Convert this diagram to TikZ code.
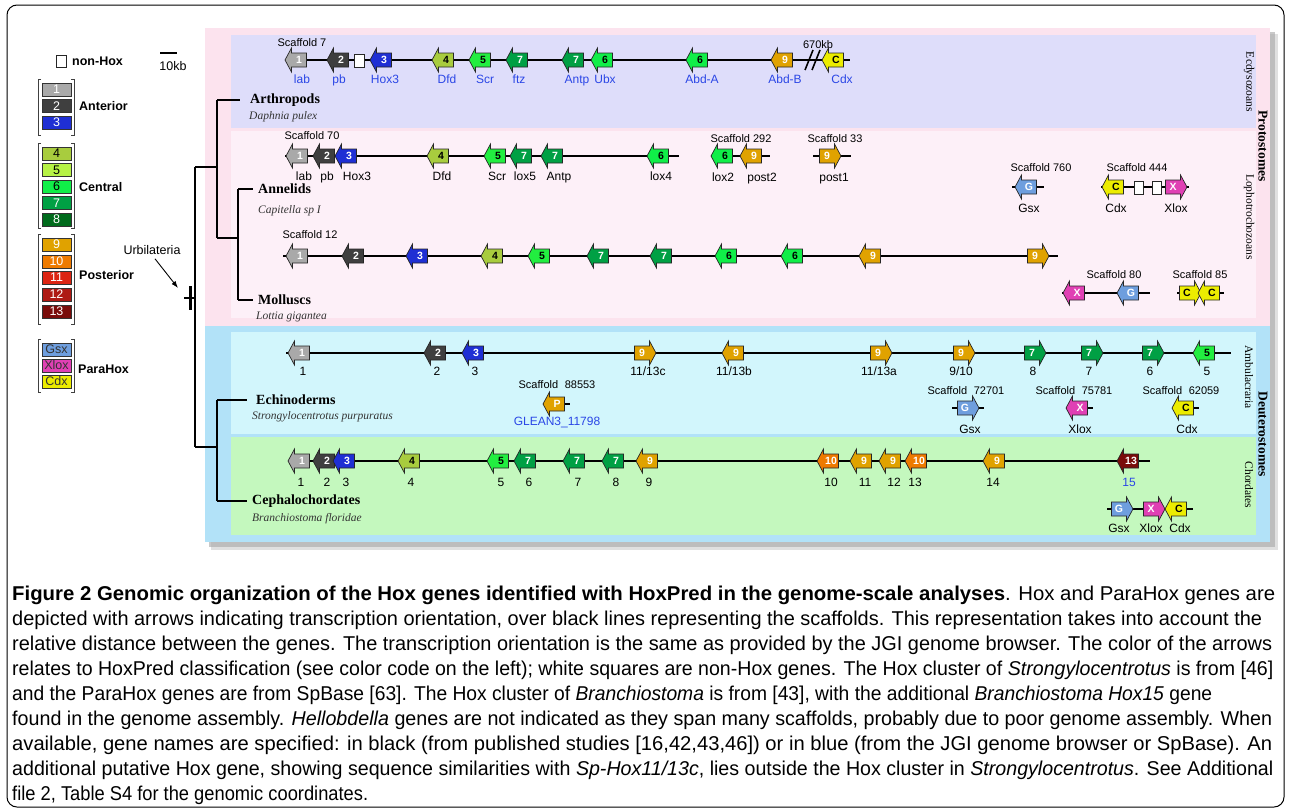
\documentclass[tikz,border=0pt]{standalone}
\usepackage{fontspec}
\usepackage{graphicx}
\setmainfont{Liberation Serif}
\newfontfamily\arial{Liberation Sans}
\newfontfamily\capfont{Liberation Sans}
\usetikzlibrary{arrows.meta,calc}

\definecolor{cOne}{HTML}{A9A9A9}
\definecolor{cTwo}{HTML}{3F3F3F}
\definecolor{cThree}{HTML}{1F2FD4}
\definecolor{cFour}{HTML}{A8CC3E}
\definecolor{cFive}{HTML}{B6F245}
\definecolor{cFiveG}{HTML}{22EE40}
\definecolor{cSix}{HTML}{10EE48}
\definecolor{cSeven}{HTML}{00A044}
\definecolor{cEight}{HTML}{006B1C}
\definecolor{cNine}{HTML}{E0A200}
\definecolor{cTen}{HTML}{EE7A00}
\definecolor{cEleven}{HTML}{DC2412}
\definecolor{cTwelve}{HTML}{AE1A14}
\definecolor{cThirteen}{HTML}{7A0C0A}
\definecolor{cGsx}{HTML}{6E9EDE}
\definecolor{cXlox}{HTML}{E040B4}
\definecolor{cCdx}{HTML}{ECEC00}
\definecolor{gblue}{HTML}{2A46E6}
\definecolor{bgPink}{HTML}{FCE3EE}
\definecolor{bgBlue}{HTML}{B2E2F8}
\definecolor{bgLav}{HTML}{DEDDFA}
\definecolor{bgLpink}{HTML}{FDF0F8}
\definecolor{bgCyan}{HTML}{D2F6FC}
\definecolor{bgGreen}{HTML}{C4F8BE}

\newsavebox\cbA \newsavebox\cbB \newsavebox\cbC
\newsavebox\cbD \newsavebox\cbE \newsavebox\cbF
\newsavebox\cbG \newsavebox\cbH \newsavebox\cbI
\newdimen\capw
\newcounter{gn}
\newcounter{ln}
\newcommand\gL[5]{\stepcounter{gn}%
 \filldraw[gene,fill=#3] ({#1+7.5},{#2-7}) -- ({#1-7.5},{#2-7}) -- ({#1-7.5},{#2-12}) -- ({#1-14},{#2}) -- ({#1-7.5},{#2+12}) -- ({#1-7.5},{#2+7}) -- ({#1+7.5},{#2+7}) -- cycle;
 \node[gnum,text=#4] (g\arabic{gn}) at (#1,#2) {#5};}
\newcommand\gR[5]{\stepcounter{gn}%
 \filldraw[gene,fill=#3] ({#1-7.5},{#2-7}) -- ({#1+7.5},{#2-7}) -- ({#1+7.5},{#2-12}) -- ({#1+14},{#2}) -- ({#1+7.5},{#2+12}) -- ({#1+7.5},{#2+7}) -- ({#1-7.5},{#2+7}) -- cycle;
 \node[gnum,text=#4] (g\arabic{gn}) at (#1,#2) {#5};}
\newcommand\glb[4]{\stepcounter{ln}\node[glab,text=#3] (l\arabic{ln}) at (#1,{#2+4.3}) {#4};}
\newcommand\scl[3]{\stepcounter{ln}\node[sclab] (s\arabic{ln}) at (#1,{#2+4}) {#3};}
\newcommand\capfnt{\capfont\fontsize{20}{20}\selectfont}
\newcommand\legbr[2]{\draw[brk] (41,#1) -- (38,#1) -- (38,#2) -- (41,#2); \draw[brk] (71,#1) -- (74,#1) -- (74,#2) -- (71,#2);}

\tikzset{
 gene/.style={draw=black!85, line width=0.7pt, line join=miter},
 gnum/.style={font=\arial\bfseries\fontsize{10.5}{10.5}\selectfont, inner sep=0pt},
 glab/.style={font=\arial\fontsize{12}{12}\selectfont, inner sep=0pt, anchor=base},
 sclab/.style={font=\arial\fontsize{11}{11}\selectfont, inner sep=0pt, anchor=base},
 scaf/.style={line width=1.6pt, black},
 tree/.style={line width=1.8pt, black},
 nonhox/.style={draw=black!85, fill=white, line width=0.7pt},
 taxon/.style={font=\bfseries\fontsize{14}{14}\selectfont, anchor=west, inner sep=0pt},
 species/.style={font=\itshape\fontsize{11.5}{12}\selectfont, anchor=west, inner sep=0pt, text=black!80},
 clade/.style={font=\fontsize{11.5}{12}\selectfont, rotate=-90, inner sep=0pt},
 bigclade/.style={font=\bfseries\fontsize{13.5}{14}\selectfont, rotate=-90, inner sep=0pt},
 legbox/.style={draw=black!80, line width=0.6pt, minimum width=29pt, minimum height=13pt, inner sep=0pt, font=\arial\fontsize{12.5}{12.5}\selectfont},
 leglab/.style={font=\arial\bfseries\fontsize{12.5}{13}\selectfont, anchor=west, inner sep=0pt},
 brk/.style={draw=black!75, line width=0.7pt},
 capl/.style={anchor=base west, inner sep=0pt},
}

\begin{document}
\sbox\cbA{\capfnt\bfseries Figure 2 Genomic organization of the Hox genes identified with HoxPred in the genome-scale analyses\mdseries. Hox and ParaHox genes are}%
\capw=\wd\cbA\pgfmathsetmacro\sxA{1263/\capw}%
\sbox\cbB{\capfnt depicted with arrows indicating transcription orientation, over black lines representing the scaffolds. This representation takes into account the}%
\capw=\wd\cbB\pgfmathsetmacro\sxB{1250/\capw}%
\sbox\cbC{\capfnt relative distance between the genes. The transcription orientation is the same as provided by the JGI genome browser. The color of the arrows}%
\capw=\wd\cbC\pgfmathsetmacro\sxC{1260/\capw}%
\sbox\cbD{\capfnt relates to HoxPred classification (see color code on the left); white squares are non-Hox genes. The Hox cluster of \textit{Strongylocentrotus} is from [46]}%
\capw=\wd\cbD\pgfmathsetmacro\sxD{1261/\capw}%
\sbox\cbE{\capfnt and the ParaHox genes are from SpBase [63]. The Hox cluster of \textit{Branchiostoma} is from [43], with the additional \textit{Branchiostoma Hox15} gene}%
\capw=\wd\cbE\pgfmathsetmacro\sxE{1200/\capw}%
\sbox\cbF{\capfnt found in the genome assembly. \textit{Hellobdella} genes are not indicated as they span many scaffolds, probably due to poor genome assembly. When}%
\capw=\wd\cbF\pgfmathsetmacro\sxF{1260/\capw}%
\sbox\cbG{\capfnt available, gene names are specified: in black (from published studies [16,42,43,46]) or in blue (from the JGI genome browser or SpBase). An}%
\capw=\wd\cbG\pgfmathsetmacro\sxG{1260/\capw}%
\sbox\cbH{\capfnt additional putative Hox gene, showing sequence similarities with \textit{Sp-Hox11/13c}, lies outside the Hox cluster in \textit{Strongylocentrotus}. See Additional}%
\capw=\wd\cbH\pgfmathsetmacro\sxH{1261/\capw}%
\sbox\cbI{\capfnt file 2, Table S4 for the genomic coordinates.}%
\capw=\wd\cbI\pgfmathsetmacro\sxI{356/\capw}%
\begin{tikzpicture}[x=1pt,y=-1pt]
\useasboundingbox (0,0) rectangle (1290,809);
\fill[white] (0,0) rectangle (1290,809);
\draw[rounded corners=10pt, line width=1pt] (7,5) rectangle (1284,807);

% ---------- panel backgrounds ----------
\fill[black!20, opacity=0.6] (211,34) rectangle (1278,550);
\fill[black!35, opacity=0.6] (209,32) rectangle (1275,547);
\fill[bgPink] (205,28) rectangle (1270,326);
\fill[bgBlue] (205,326) rectangle (1270,542);
\fill[bgLav] (231,35) rectangle (1256,128);
\fill[bgLpink] (231,131) rectangle (1256,318);
\fill[bgCyan] (231,332) rectangle (1256,434);
\fill[bgGreen] (231,437) rectangle (1256,535);

% ---------- clade labels ----------
\node[clade] (ecd) at (1249,82) {Ecdysozoans};
\node[bigclade] (pro) at (1263,146) {Protostomes};
\node[clade] (lop) at (1249,217) {Lophotrochozoans};
\node[clade] (amb) at (1249,377) {Ambulacraria};
\node[bigclade] (deu) at (1263,434) {Deuterostomes};
\node[clade] (cho) at (1249,485) {Chordates};

% ---------- legend ----------
\draw[nonhox] (56,55) rectangle (66,67);
\node[leglab] (nh) at (72,61) {non-Hox};
\draw[line width=1.6pt] (160,53) -- (177,53);
\node[font=\arial\fontsize{12.5}{12.5}\selectfont, inner sep=0pt] (kb) at (173,66) {10kb};

\node[legbox, fill=cOne, text=white] (L1) at (56.5,89.5) {1};
\node[legbox, fill=cTwo, text=white] (L2) at (56.5,106) {2};
\node[legbox, fill=cThree, text=white] (L3) at (56.5,122.5) {3};
\legbr{79}{135}
\node[leglab] (ant) at (79,106) {Anterior};

\node[legbox, fill=cFour] (L4) at (56.5,153.5) {4};
\node[legbox, fill=cFive] (L5) at (56.5,170) {5};
\node[legbox, fill=cSix] (L6) at (56.5,186.5) {6};
\node[legbox, fill=cSeven, text=white] (L7) at (56.5,203) {7};
\node[legbox, fill=cEight, text=white] (L8) at (56.5,219.5) {8};
\legbr{143}{228}
\node[leglab] (cen) at (79,187) {Central};

\node[legbox, fill=cNine, text=white] (L9) at (56.5,244.5) {9};
\node[legbox, fill=cTen, text=white] (L10) at (56.5,261.5) {10};
\node[legbox, fill=cEleven, text=white] (L11) at (56.5,277.5) {11};
\node[legbox, fill=cTwelve, text=white] (L12) at (56.5,294.5) {12};
\node[legbox, fill=cThirteen, text=white] (L13) at (56.5,311.5) {13};
\legbr{234}{324}
\node[leglab] (pos) at (79,275) {Posterior};

\node[legbox, fill=cGsx, text=black!80] (LG) at (56.5,349.5) {Gsx};
\node[legbox, fill=cXlox, text=black!80] (LX) at (56.5,365.5) {Xlox};
\node[legbox, fill=cCdx, text=black!80] (LC) at (56.5,381.5) {Cdx};
\legbr{339}{392}
\node[leglab] (par) at (78,369) {ParaHox};

% ---------- tree ----------
\node[font=\arial\fontsize{12.5}{12.5}\selectfont, inner sep=0pt] (urb) at (152,250) {Urbilateria};
\coordinate (urbtip) at (178,288);
\draw[line width=0.9pt, -{Latex[length=7pt,width=5pt]}] ($(urb.south)+(3,4)$) -- (urbtip);

\node[taxon] (arth) at (250,100) {Arthropods};
\node[species] (arths) at (249,117) {Daphnia pulex};
\node[taxon] (ann) at (258,189) {Annelids};
\node[species] (anns) at (258,211) {Capitella sp I};
\node[taxon] (mol) at (258,300) {Molluscs};
\node[species] (mols) at (256,317) {Lottia gigantea};
\node[taxon] (ech) at (256,400) {Echinoderms};
\node[species] (echs) at (252,417) {Strongylocentrotus purpuratus};
\node[taxon] (cep) at (252,501) {Cephalochordates};
\node[species] (ceps) at (252,519) {Branchiostoma floridae};

\coordinate (rt) at (195,167);
\coordinate (rb) at (195,447);
\coordinate (pt) at (217,100);
\coordinate (pm) at (217,167);
\coordinate (pb) at (217,238);
\coordinate (lt) at (238,189);
\coordinate (lm) at (238,238);
\coordinate (lb) at (238,300);
\coordinate (dt) at (217,400);
\coordinate (dm) at (217,447);
\coordinate (db) at (217,501);
\draw[tree] (rt) -- (rb);
\draw[tree] (rt) -- (pm);
\draw[tree] (rb) -- (dm);
\draw[tree] (pt) -- (pb);
\draw[tree] (pb) -- (lm);
\draw[tree] (lt) -- (lb);
\draw[tree] (dt) -- (db);
\draw[tree] (pt) -- ($(pt -| arth.west)+(-10,0)$);
\draw[tree] (lt) -- ($(lt -| ann.west)+(-5,0)$);
\draw[tree] (lb) -- ($(lb -| mol.west)+(-5,0)$);
\draw[tree] (dt) -- ($(dt -| ech.west)+(-9,0)$);
\draw[tree] (db) -- ($(db -| cep.west)+(-5,0)$);
\draw[line width=3pt] (190,286) -- (190,310);
\draw[line width=2.5pt] (184,298) -- (196,298);

% ---------- Row 1: Arthropods ----------
\scl{302}{42}{Scaffold 7}
\node[sclab] (kb670) at (818,48) {670kb};
\draw[scaf] (286,60) -- (850,60);
\draw[line width=1.6pt] (805,70) -- (813,50);
\draw[line width=1.6pt] (812,70) -- (820,50);
\gL{299}{60}{cOne}{white}{1}
\gL{341}{60}{cTwo}{white}{2}
\draw[nonhox] (354,54) rectangle (364,67);
\gL{384}{60}{cThree}{white}{3}
\gL{446}{60}{cFour}{black}{4}
\gL{483}{60}{cFiveG}{black}{5}
\gL{520}{60}{cSeven}{white}{7}
\gL{576}{60}{cSeven}{white}{7}
\gL{605}{60}{cSix}{black}{6}
\gL{700}{60}{cSix}{black}{6}
\gL{785}{60}{cNine}{white}{9}
\gL{836}{60}{cCdx}{black}{C}
\glb{302}{79}{gblue}{lab}
\glb{339}{79}{gblue}{pb}
\glb{385}{79}{gblue}{Hox3}
\glb{447}{79}{gblue}{Dfd}
\glb{485}{79}{gblue}{Scr}
\glb{519}{79}{gblue}{ftz}
\glb{577}{79}{gblue}{Antp}
\glb{605}{79}{gblue}{Ubx}
\glb{702}{79}{gblue}{Abd-A}
\glb{785}{79}{gblue}{Abd-B}
\glb{842}{79}{gblue}{Cdx}

% ---------- Row 2: Annelids ----------
\scl{312}{135}{Scaffold 70}
\draw[scaf] (285,156) -- (679,156);
\gL{300}{156}{cOne}{white}{1}
\gL{327}{156}{cTwo}{white}{2}
\gL{349}{156}{cThree}{white}{3}
\gL{441}{156}{cFour}{black}{4}
\gL{498}{156}{cFiveG}{black}{5}
\gL{524}{156}{cSeven}{white}{7}
\gL{555}{156}{cSeven}{white}{7}
\gL{661}{156}{cSix}{black}{6}
\glb{304}{176}{black}{lab}
\glb{327}{176}{black}{pb}
\glb{357}{176}{black}{Hox3}
\glb{442}{176}{black}{Dfd}
\glb{497}{176}{black}{Scr}
\glb{525}{176}{black}{lox5}
\glb{559}{176}{black}{Antp}
\glb{661}{176}{black}{lox4}

\scl{741}{138}{Scaffold 292}
\draw[scaf] (711,156) -- (770,156);
\gL{725}{156}{cSix}{black}{6}
\gL{754}{156}{cNine}{white}{9}
\glb{723}{177}{black}{lox2}
\glb{762}{177}{black}{post2}

\scl{835}{138}{Scaffold 33}
\draw[scaf] (813,156) -- (851,156);
\gR{827}{156}{cNine}{white}{9}
\glb{834}{177}{black}{post1}

\scl{1041}{167}{Scaffold 760}
\draw[scaf] (1012,187) -- (1044,187);
\gL{1029}{187}{cGsx}{white}{G}
\glb{1029}{208}{black}{Gsx}

\scl{1137}{167}{Scaffold 444}
\draw[scaf] (1101,187) -- (1189,187);
\gL{1116}{187}{cCdx}{black}{C}
\draw[nonhox] (1134,181) rectangle (1143,194);
\draw[nonhox] (1152,181) rectangle (1161,194);
\gR{1173}{187}{cXlox}{white}{X}
\glb{1116}{208}{black}{Cdx}
\glb{1176}{208}{black}{Xlox}

% ---------- Row 3: Molluscs ----------
\scl{310}{234}{Scaffold 12}
\draw[scaf] (283,256) -- (1058,256);
\gL{300}{256}{cOne}{white}{1}
\gL{356}{256}{cTwo}{white}{2}
\gL{420}{256}{cThree}{white}{3}
\gL{495}{256}{cFour}{black}{4}
\gL{542}{256}{cFiveG}{black}{5}
\gL{601}{256}{cSeven}{white}{7}
\gL{664}{256}{cSeven}{white}{7}
\gL{729}{256}{cSix}{black}{6}
\gL{795}{256}{cSix}{black}{6}
\gL{873}{256}{cNine}{white}{9}
\gR{1035}{256}{cNine}{white}{9}

\scl{1114}{274}{Scaffold 80}
\draw[scaf] (1062,293) -- (1150,293);
\gL{1077}{293}{cXlox}{white}{X}
\gL{1131}{293}{cGsx}{white}{G}

\scl{1200}{274}{Scaffold 85}
\draw[scaf] (1177,293) -- (1224,293);
\gR{1187}{293}{cCdx}{black}{C}
\gL{1212}{293}{cCdx}{black}{C}

% ---------- Row 4: Echinoderms ----------
\draw[scaf] (286,353) -- (1231,353);
\gL{302}{353}{cOne}{white}{1}
\gL{438}{353}{cTwo}{white}{2}
\gL{476}{353}{cThree}{white}{3}
\gR{642}{353}{cNine}{white}{9}
\gL{736}{353}{cNine}{white}{9}
\gR{878}{353}{cNine}{white}{9}
\gR{961}{353}{cNine}{white}{9}
\gR{1032}{353}{cSeven}{white}{7}
\gR{1089}{353}{cSeven}{white}{7}
\gR{1150}{353}{cSeven}{white}{7}
\gL{1207}{353}{cFiveG}{black}{5}
\glb{303}{371}{black}{1}
\glb{437}{371}{black}{2}
\glb{475}{371}{black}{3}
\glb{648}{371}{black}{11/13c}
\glb{734}{371}{black}{11/13b}
\glb{879}{371}{black}{11/13a}
\glb{961}{371}{black}{9/10}
\glb{1033}{371}{black}{8}
\glb{1089}{371}{black}{7}
\glb{1150}{371}{black}{6}
\glb{1207}{371}{black}{5}

\scl{557}{384}{Scaffold\hspace{0.6em}88553}
\draw[scaf] (543,404) -- (570,404);
\gL{557}{404}{cNine}{white}{P}
\glb{557}{421}{gblue}{GLEAN3\_11798}

\scl{966}{390}{Scaffold\hspace{0.6em}72701}
\draw[scaf] (952,408) -- (984,408);
\gR{965}{408}{cGsx}{white}{G}
\glb{970}{429}{black}{Gsx}

\scl{1074}{390}{Scaffold\hspace{0.6em}75781}
\draw[scaf] (1066,408) -- (1093,408);
\gL{1080}{408}{cXlox}{white}{X}
\glb{1080}{429}{black}{Xlox}

\scl{1181}{390}{Scaffold\hspace{0.6em}62059}
\draw[scaf] (1173,408) -- (1199,408);
\gL{1186}{408}{cCdx}{black}{C}
\glb{1187}{429}{black}{Cdx}

% ---------- Row 5: Cephalochordates ----------
\draw[scaf] (289,461) -- (1150,461);
\gL{302}{461}{cOne}{white}{1}
\gL{327}{461}{cTwo}{white}{2}
\gL{347}{461}{cThree}{white}{3}
\gL{412}{461}{cFour}{black}{4}
\gL{501}{461}{cFiveG}{black}{5}
\gL{528}{461}{cSeven}{white}{7}
\gL{577}{461}{cSeven}{white}{7}
\gL{616}{461}{cSeven}{white}{7}
\gL{650}{461}{cNine}{white}{9}
\gL{831}{461}{cTen}{white}{10}
\gL{864}{461}{cNine}{white}{9}
\gL{893}{461}{cNine}{white}{9}
\gL{919}{461}{cTen}{white}{10}
\gL{997}{461}{cNine}{white}{9}
\gL{1131}{461}{cThirteen}{white}{13}
\glb{301}{482}{black}{1}
\glb{327}{482}{black}{2}
\glb{346}{482}{black}{3}
\glb{411}{482}{black}{4}
\glb{501}{482}{black}{5}
\glb{529}{482}{black}{6}
\glb{578}{482}{black}{7}
\glb{616}{482}{black}{8}
\glb{649}{482}{black}{9}
\glb{831}{482}{black}{10}
\glb{865}{482}{black}{11}
\glb{894}{482}{black}{12}
\glb{915}{482}{black}{13}
\glb{993}{482}{black}{14}
\glb{1129}{482}{gblue}{15}

\draw[scaf] (1107,509) -- (1193,509);
\gR{1119}{509}{cGsx}{white}{G}
\gR{1151}{509}{cXlox}{white}{X}
\gL{1179}{509}{cCdx}{black}{C}
\glb{1119}{528}{black}{Gsx}
\glb{1151}{528}{black}{Xlox}
\glb{1180}{528}{black}{Cdx}

% ---------- caption ----------
\node[capl] (cap1) at (12,600) {\scalebox{\sxA}[1]{\usebox\cbA}};
\node[capl] (cap2) at (12,625) {\scalebox{\sxB}[1]{\usebox\cbB}};
\node[capl] (cap3) at (12,650) {\scalebox{\sxC}[1]{\usebox\cbC}};
\node[capl] (cap4) at (12,675) {\scalebox{\sxD}[1]{\usebox\cbD}};
\node[capl] (cap5) at (12,700) {\scalebox{\sxE}[1]{\usebox\cbE}};
\node[capl] (cap6) at (12,725) {\scalebox{\sxF}[1]{\usebox\cbF}};
\node[capl] (cap7) at (12,750) {\scalebox{\sxG}[1]{\usebox\cbG}};
\node[capl] (cap8) at (12,775) {\scalebox{\sxH}[1]{\usebox\cbH}};
\node[capl] (cap9) at (12,800) {\scalebox{\sxI}[1]{\usebox\cbI}};
\end{tikzpicture}
\end{document}
